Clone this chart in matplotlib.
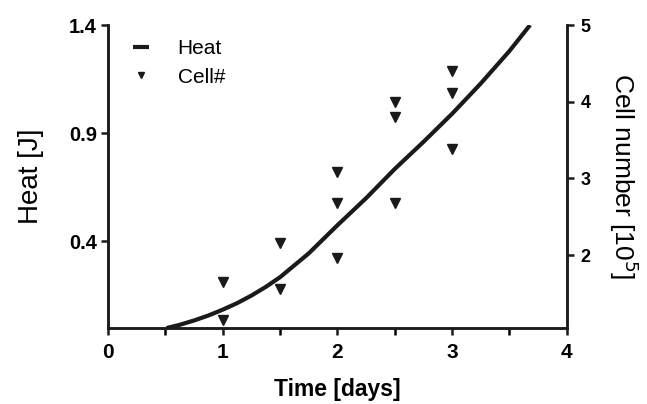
import matplotlib.pyplot as plt

plt.rcParams['font.family'] = ['Liberation Sans', 'DejaVu Sans']

# heat curve (left axis)
heat_time = [0.51, 0.625, 0.75, 0.875, 1.0, 1.125, 1.25, 1.375, 1.5, 1.75,
             2.0, 2.25, 2.5, 2.75, 3.0, 3.25, 3.5, 3.68]
heat = [0.0, 0.015, 0.035, 0.058, 0.085, 0.115, 0.15, 0.19, 0.235, 0.345,
        0.475, 0.60, 0.735, 0.86, 0.99, 1.13, 1.28, 1.40]

# cell counts (right axis, x10^5)
cell_time = [1, 1, 1.5, 1.5, 2, 2, 2, 2.5, 2.5, 2.5, 3, 3, 3]
cell_number = [1.65, 1.15, 2.16, 1.56, 3.09, 2.68, 1.96, 4.0, 3.8, 2.68, 4.40, 4.11, 3.38]

x_ticks = [0, 1, 2, 3, 4]
heat_ticks = [0.4, 0.9, 1.4]
cell_ticks = [2, 3, 4, 5]

fig = plt.figure(figsize=(6.47, 4.04), dpi=100)
ax = fig.add_axes([0.167, 0.188, 0.709, 0.750])
ax2 = ax.twinx()

line, = ax.plot(heat_time, heat, color='#1a1a1a', lw=3, solid_capstyle='butt', label='Heat')
pts, = ax2.plot(cell_time, cell_number, 'v', color='#1a1a1a', ms=7, ls='none', label='Cell#')

ax.set_xlim(0, 4)
ax.set_ylim(0, 1.4)
ax2.set_ylim(1.05, 5)

ax.set_xticks(x_ticks)
ax.set_xticks([0.5, 1.5, 2.5, 3.5], minor=True)
ax.set_yticks(heat_ticks)
ax2.set_yticks(cell_ticks)

for a in (ax, ax2):
    a.spines['top'].set_visible(False)
    for s in ('left', 'right', 'bottom'):
        a.spines[s].set_linewidth(1.8)
        a.spines[s].set_color('#1a1a1a')
    a.tick_params(width=1.8, length=5, color='#1a1a1a')
ax.tick_params(axis='x', which='minor', width=1.8, length=5)
ax.tick_params(axis='x', labelsize=15, pad=6)
ax.tick_params(axis='y', labelsize=14.5, pad=3)
ax2.tick_params(axis='y', labelsize=13, pad=5)
for lab in ax.get_xticklabels() + ax.get_yticklabels() + ax2.get_yticklabels():
    lab.set_fontweight('bold')

ax.set_xlabel('Time [days]', fontsize=16.5, fontweight='bold', labelpad=11)
ax.set_ylabel('Heat [J]', fontsize=20, labelpad=18)
ax2.set_ylabel('Cell number [10$^5$]', fontsize=19, rotation=270, labelpad=36)

ax2.legend([line, pts], ['Heat', 'Cell#'], loc='upper left', frameon=False,
           fontsize=15, handlelength=0.8, handletextpad=1.35, markerscale=0.7,
           labelspacing=0.45, borderpad=0, borderaxespad=0,
           bbox_to_anchor=(0.054, 0.953))

fig.savefig('out.png', dpi=100)
